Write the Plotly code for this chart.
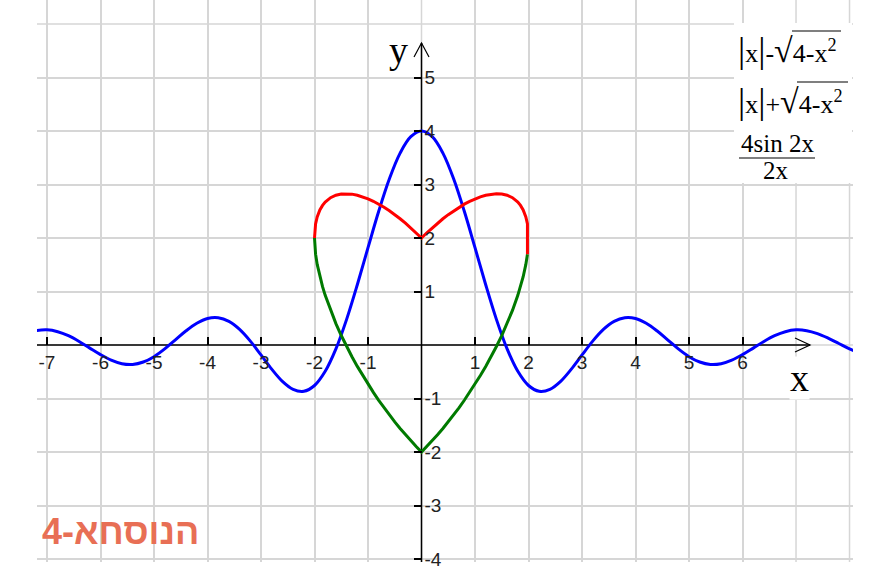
import plotly.graph_objects as go

# ---------------- data ----------------
# blue curve: 4 sin 2x / 2x
blue_x = [-7.4, -7.2, -7.0, -6.8, -6.6, -6.4, -6.2, -6.0, -5.8, -5.6, -5.4, -5.2, -5.0,
          -4.8, -4.6, -4.4, -4.2, -4.0, -3.8, -3.6, -3.4, -3.2, -3.0, -2.8, -2.6, -2.4,
          -2.2, -2.0, -1.8, -1.6, -1.4, -1.2, -1.0, -0.8, -0.6, -0.4, -0.2, 0.0,
          0.2, 0.4, 0.6, 0.8, 1.0, 1.2, 1.4, 1.6, 1.8, 2.0, 2.2, 2.4, 2.6, 2.8, 3.0,
          3.2, 3.4, 3.6, 3.8, 4.0, 4.2, 4.4, 4.6, 4.8, 5.0, 5.2, 5.4, 5.6, 5.8, 6.0,
          6.2, 6.4, 6.6, 6.8, 7.0, 7.2, 7.4, 7.6, 7.8, 8.0, 8.2]
blue_y = [0.213, 0.268, 0.283, 0.249, 0.174, 0.067, -0.058, -0.179, -0.282, -0.349,
          -0.363, -0.318, -0.218, -0.073, 0.097, 0.266, 0.407, 0.495, 0.509, 0.441,
          0.291, 0.073, -0.186, -0.451, -0.680, -0.830, -0.865, -0.757, -0.492, -0.073,
          0.479, 1.126, 1.819, 2.499, 3.107, 3.587, 3.894, 4.000,
          3.894, 3.587, 3.107, 2.499, 1.819, 1.126, 0.479, -0.073, -0.492, -0.757,
          -0.865, -0.830, -0.680, -0.451, -0.186, 0.073, 0.291, 0.441, 0.509, 0.495,
          0.407, 0.266, 0.097, -0.073, -0.218, -0.318, -0.363, -0.349, -0.282, -0.179,
          -0.058, 0.067, 0.174, 0.249, 0.283, 0.268, 0.213, 0.128, 0.028, -0.072, -0.155]

# heart: |x| + sqrt(4-x^2) (red) and |x| - sqrt(4-x^2) (green)
heart_x = [-2.0, -1.98, -1.95, -1.9, -1.85, -1.8, -1.7, -1.6, -1.5, -1.4, -1.3, -1.2,
           -1.1, -1.0, -0.9, -0.8, -0.7, -0.6, -0.5, -0.4, -0.3, -0.2, -0.1, 0.0,
           0.1, 0.2, 0.3, 0.4, 0.5, 0.6, 0.7, 0.8, 0.9, 1.0, 1.1, 1.2, 1.3, 1.4,
           1.5, 1.6, 1.7, 1.8, 1.85, 1.9, 1.95, 1.98]
red_y = [2.0, 2.262, 2.394, 2.525, 2.610, 2.672, 2.754, 2.800, 2.823, 2.828, 2.820,
         2.800, 2.770, 2.732, 2.686, 2.633, 2.574, 2.508, 2.437, 2.360, 2.277, 2.190,
         2.098, 2.0,
         2.098, 2.190, 2.277, 2.360, 2.437, 2.508, 2.574, 2.633, 2.686, 2.732, 2.770,
         2.800, 2.820, 2.828, 2.823, 2.800, 2.754, 2.672, 2.610, 2.525, 2.394, 2.262]
green_y = [2.0, 1.698, 1.506, 1.276, 1.090, 0.928, 0.646, 0.400, 0.177, -0.028,
           -0.220, -0.400, -0.570, -0.732, -0.886, -1.033, -1.174, -1.308, -1.437,
           -1.560, -1.677, -1.790, -1.898, -2.0,
           -1.898, -1.790, -1.677, -1.560, -1.437, -1.308, -1.174, -1.033, -0.886,
           -0.732, -0.570, -0.400, -0.220, -0.028, 0.177, 0.400, 0.646, 0.928, 1.090,
           1.276, 1.506, 1.698]

x_ticks = [-7, -6, -5, -4, -3, -2, -1, 1, 2, 3, 4, 5, 6]
y_ticks = [-4, -3, -2, -1, 1, 2, 3, 4, 5]
x_grid_extra = [0, 7, 8]
y_grid_extra = [0, 6]

title_text = "הנוסחא-4"

# ---------------- geometry helpers ----------------
W, H = 875, 570
L, R, T, B = 37, 853, 0, 562           # plot area in pixels
XR = [-7.187, 8.065]
YR = [-4.056, 6.449]


def pxp(X):
    return (X - L) / (R - L)


def pyp(Y):
    return (B - Y) / (B - T)


GRID = "#d6d6d6"
fig = go.Figure()

# red curve ends with a drop onto the green end point
red_x_full = heart_x + [heart_x[-1]]
red_y_full = red_y + [green_y[-1]]

fig.add_trace(go.Scatter(x=blue_x, y=blue_y, mode="lines",
                         line=dict(color="#0000ff", width=3, shape="spline", smoothing=1),
                         hoverinfo="skip"))
fig.add_trace(go.Scatter(x=heart_x, y=green_y, mode="lines",
                         line=dict(color="#007a00", width=3), hoverinfo="skip"))
fig.add_trace(go.Scatter(x=red_x_full, y=red_y_full, mode="lines",
                         line=dict(color="#ff0000", width=3), hoverinfo="skip"))

shapes = []
# grid lines not carried by labelled ticks
for gx in x_grid_extra:
    shapes.append(dict(type="line", xref="x", yref="paper", x0=gx, x1=gx, y0=0, y1=1,
                       line=dict(color=GRID, width=1.5), layer="below"))
for gy in y_grid_extra:
    shapes.append(dict(type="line", xref="paper", yref="y", x0=0, x1=1, y0=gy, y1=gy,
                       line=dict(color=GRID, width=1.5), layer="below"))
# axis lines
shapes.append(dict(type="line", xref="x", yref="y", x0=XR[0], x1=7.262, y0=0, y1=0,
                   line=dict(color="black", width=1.5), layer="between"))
shapes.append(dict(type="line", xref="x", yref="y", x0=0, x1=0, y0=YR[0], y1=5.645,
                   line=dict(color="black", width=1.5), layer="between"))
# arrow heads (open chevrons)
shapes.append(dict(type="path", xref="x", yref="y",
                   path="M 6.981 0.131 L 7.262 0 L 6.981 -0.131",
                   line=dict(color="black", width=1.2), layer="between"))
shapes.append(dict(type="path", xref="x", yref="y",
                   path="M -0.14 5.383 L 0 5.645 L 0.14 5.383",
                   line=dict(color="black", width=1.2), layer="between"))
# white legend box
shapes.append(dict(type="rect", xref="paper", yref="paper",
                   x0=pxp(734), x1=pxp(852), y0=pyp(183), y1=pyp(23),
                   fillcolor="white", line=dict(width=0), layer="above"))
# radical overlines
shapes.append(dict(type="line", xref="paper", yref="paper",
                   x0=pxp(792), x1=pxp(841), y0=pyp(31), y1=pyp(31),
                   line=dict(color="black", width=1.2), layer="above"))
shapes.append(dict(type="line", xref="paper", yref="paper",
                   x0=pxp(797), x1=pxp(848), y0=pyp(82), y1=pyp(82),
                   line=dict(color="black", width=1.2), layer="above"))
# fraction bar
shapes.append(dict(type="line", xref="paper", yref="paper",
                   x0=pxp(739), x1=pxp(815), y0=pyp(158), y1=pyp(158),
                   line=dict(color="black", width=1.2), layer="above"))

SERIF = "Liberation Serif, Times New Roman, serif"
annotations = [
    dict(text="y", x=pxp(398), y=pyp(50), xref="paper", yref="paper", showarrow=False,
         font=dict(family=SERIF, size=38, color="black"), xanchor="center", yanchor="middle"),
    dict(text="x", x=pxp(799), y=pyp(378), xref="paper", yref="paper", showarrow=False,
         font=dict(family=SERIF, size=38, color="black"), xanchor="center", yanchor="middle",
         bgcolor="white", borderpad=0),
    dict(text="<span style='font-size:36px'>|</span>x<span style='font-size:36px'>|</span>-"
              "<span style='font-size:34px'>√</span>4-x<sup>2</sup>",
         x=pxp(736), y=pyp(50), xref="paper", yref="paper", showarrow=False,
         font=dict(family=SERIF, size=26, color="black"), xanchor="left", yanchor="middle"),
    dict(text="<span style='font-size:36px'>|</span>x<span style='font-size:36px'>|</span>+"
              "<span style='font-size:34px'>√</span>4-x<sup>2</sup>",
         x=pxp(736), y=pyp(101), xref="paper", yref="paper", showarrow=False,
         font=dict(family=SERIF, size=26, color="black"), xanchor="left", yanchor="middle"),
    dict(text="4sin 2x", x=pxp(777), y=pyp(143), xref="paper", yref="paper", showarrow=False,
         font=dict(family=SERIF, size=25, color="black"), xanchor="center", yanchor="middle"),
    dict(text="2x", x=pxp(776), y=pyp(171), xref="paper", yref="paper", showarrow=False,
         font=dict(family=SERIF, size=25, color="black"), xanchor="center", yanchor="middle"),
    dict(text="<b>" + title_text + "</b>", x=pxp(120), y=pyp(531), xref="paper", yref="paper",
         showarrow=False, font=dict(family="Liberation Sans, Arial, sans-serif", size=36,
                                    color="#e86f55"),
         xanchor="center", yanchor="middle"),
]

TICKFONT = dict(family="Liberation Sans, Arial, sans-serif", size=19, color="#222222")

fig.update_layout(
    width=W, height=H,
    margin=dict(l=L, r=W - R, t=T, b=H - B, pad=0),
    paper_bgcolor="white", plot_bgcolor="white",
    showlegend=False,
    shapes=shapes, annotations=annotations,
    xaxis=dict(range=XR, domain=[0, 1], anchor="free",
               position=(0 - YR[0]) / (YR[1] - YR[0]),
               tickmode="array", tickvals=x_ticks, ticktext=[str(v) for v in x_ticks],
               ticks="inside", ticklen=8, tickwidth=1.5, tickcolor="black",
               ticklabelstandoff=4,
               tickfont=TICKFONT, showgrid=True, gridcolor=GRID, gridwidth=1.5,
               showline=False, zeroline=False, fixedrange=True),
    yaxis=dict(range=YR, domain=[0, 1], anchor="free",
               position=(0 - XR[0]) / (XR[1] - XR[0]), side="right",
               tickmode="array", tickvals=y_ticks, ticktext=[str(v) for v in y_ticks],
               ticks="inside", ticklen=8, tickwidth=1.5, tickcolor="black",
               ticklabelstandoff=2,
               tickfont=TICKFONT, showgrid=True, gridcolor=GRID, gridwidth=1.5,
               showline=False, zeroline=False, fixedrange=True),
)

fig.write_html("out.html", config={"displayModeBar": False},
               post_script="document.body.style.margin='0px';")
